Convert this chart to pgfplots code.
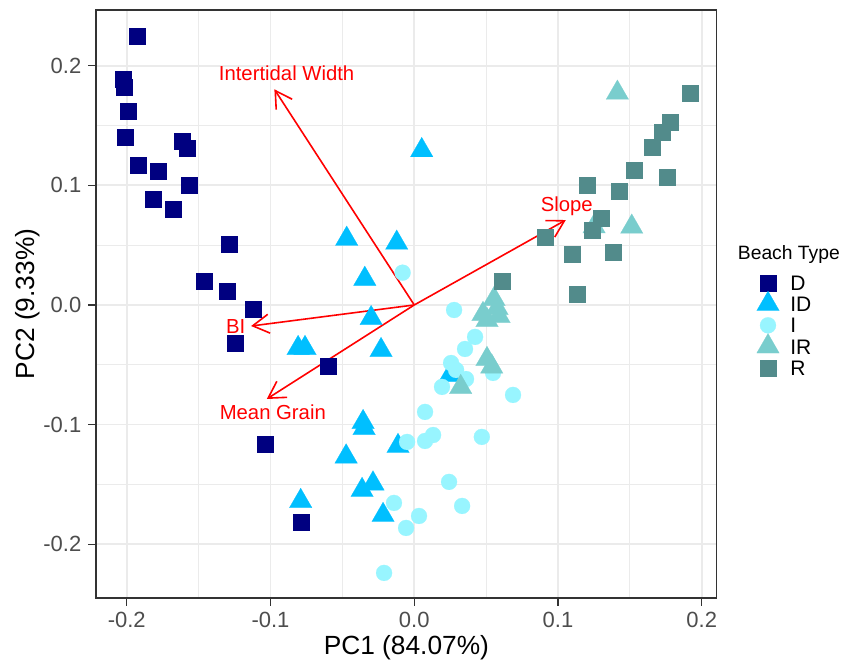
\documentclass[border=0pt]{standalone}
\usepackage{pgfplots}
\pgfplotsset{compat=1.18}
\usepackage{fontspec}
\setmainfont{Liberation Sans}
\usetikzlibrary{arrows.meta}

\definecolor{cD}{HTML}{000080}
\definecolor{cID}{HTML}{00BFFF}
\definecolor{cI}{HTML}{98F5FF}
\definecolor{cIR}{HTML}{79CDCD}
\definecolor{cR}{HTML}{528B8B}
\definecolor{gridc}{HTML}{EBEBEB}
\definecolor{frame}{HTML}{333333}
\definecolor{ticktxt}{HTML}{4D4D4D}

\pgfplotsset{
  keyimg/.style={legend image code/.code={%
    \path[draw=none, fill=none] (-6pt,-6.6pt) rectangle (6pt,6.6pt);
    \draw[##1] plot coordinates {(0pt,0pt)};}},
  loading/.style={red, line width=0.8pt, -{Straight Barb[length=8.2pt,width=9.5pt]}, forget plot},
}

\begin{document}
\begin{tikzpicture}
\begin{axis}[
    name=ax,
    scale only axis,
    width=310.4pt, height=294pt,
    xmin=-0.2214, xmax=0.2104,
    ymin=-0.2449, ymax=0.2466,
    clip=false,
    xtick={-0.2,-0.1,0,0.1,0.2},
    xticklabels={-0.2,-0.1,0.0,0.1,0.2},
    ytick={-0.2,-0.1,0,0.1,0.2},
    yticklabels={-0.2,-0.1,0.0,0.1,0.2},
    minor xtick={-0.15,-0.05,0.05,0.15},
    minor ytick={-0.15,-0.05,0.05,0.15},
    grid=both,
    major grid style={draw=gridc, line width=0.9pt},
    minor grid style={draw=gridc, line width=0.5pt},
    axis line style={draw=frame, line width=0.7pt},
    tick align=outside, tick pos=left,
    major tick length=3.8pt, minor tick length=0pt,
    every tick/.style={draw=frame, line width=0.6pt},
    ticklabel style={font=\fontsize{11}{13}\selectfont, text=ticktxt},
    xlabel={PC1 (84.07\%)},
    ylabel={PC2 (9.33\%)},
    label style={font=\fontsize{13.15}{15}\selectfont},
    xlabel style={at={(axis description cs:0.5,-0.085)}, anchor=center},
    ylabel style={at={(axis description cs:-0.1095,0.5)}, anchor=center},
    legend style={draw=none, fill=none,
      at={(axis description cs:1.0633,0.5582)}, anchor=north west,
      inner sep=0pt, outer sep=0pt, row sep=-2.6pt, column sep=5.2pt,
      nodes={inner sep=0pt, text height=7.5pt, text depth=0pt,
             font=\fontsize{10.5}{12}\selectfont}},
    legend cell align=left,
]

% D
\addplot[only marks, mark=square*, mark size=4pt,
  mark options={draw=cD, fill=cD, line width=0.2pt}, keyimg] coordinates {
  (-0.1928,0.2248) (-0.2026,0.1889) (-0.2019,0.1822) (-0.1991,0.1621)
  (-0.2012,0.1404) (-0.1615,0.1371) (-0.1581,0.1312) (-0.1921,0.1170)
  (-0.1782,0.1120) (-0.1567,0.1003) (-0.1817,0.0886) (-0.1678,0.0802)
  (-0.1288,0.0510) (-0.1462,0.0201) (-0.1302,0.0117) (-0.1121,-0.0033)
  (-0.1247,-0.0318) (-0.0600,-0.0510) (-0.1038,-0.1162) (-0.0788,-0.1814)
};
\addlegendentry{D}

% ID
\addplot[only marks, mark=triangle*, mark size=6.5pt,
  mark options={draw=cID, fill=cID, line width=0.1pt}, keyimg] coordinates {
  (0.0052,0.1293) (-0.0470,0.0552) (-0.0122,0.0519) (-0.0344,0.0217)
  (-0.0300,-0.0111) (-0.0808,-0.0361) (-0.0760,-0.0361) (-0.0231,-0.0378)
  (0.0249,-0.0587) (-0.0356,-0.0980) (-0.0349,-0.1030) (-0.0474,-0.1268)
  (-0.0113,-0.1180) (-0.0363,-0.1548) (-0.0287,-0.1494) (-0.0217,-0.1757)
  (-0.0790,-0.1640)
};
\addlegendentry{ID}

% I
\addplot[only marks, mark=*, mark size=4pt,
  mark options={draw=cI, fill=cI, line width=0.1pt}, keyimg] coordinates {
  (-0.0081,0.0270) (0.0277,-0.0042) (0.0423,-0.0267) (0.0353,-0.0368)
  (0.0256,-0.0485) (0.0291,-0.0543) (0.0360,-0.0619) (0.0193,-0.0685)
  (0.0548,-0.0568) (0.0687,-0.0752) (0.0075,-0.0894) (-0.0050,-0.1145)
  (0.0075,-0.1137) (0.0131,-0.1087) (0.0470,-0.1103) (0.0242,-0.1479)
  (0.0333,-0.1680) (-0.0141,-0.1655) (0.0033,-0.1764) (-0.0057,-0.1864)
  (-0.0210,-0.2240)
};
\addlegendentry{I}

% IR
\addplot[only marks, mark=triangle*, mark size=6.5pt,
  mark options={draw=cIR, fill=cIR, line width=0.1pt}, keyimg] coordinates {
  (0.1413,0.1773) (0.1251,0.0656) (0.1513,0.0653)
  (0.0555,0.0048) (0.0576,-0.0027) (0.0590,-0.0094) (0.0478,-0.0077)
  (0.0506,-0.0127) (0.0506,-0.0453) (0.0539,-0.0516) (0.0323,-0.0687)
};
\addlegendentry{IR}

% R
\addplot[only marks, mark=square*, mark size=4pt,
  mark options={draw=cR, fill=cR, line width=0.2pt}, keyimg] coordinates {
  (0.1919,0.1772) (0.1780,0.1529) (0.1725,0.1445) (0.1654,0.1320)
  (0.1529,0.1128) (0.1759,0.1069) (0.1202,0.1003) (0.1425,0.0953)
  (0.1300,0.0727) (0.1237,0.0627) (0.0910,0.0568) (0.1098,0.0426)
  (0.1383,0.0443) (0.1133,0.0092) (0.0614,0.0201)
};
\addlegendentry{R}

% loadings
\addplot[loading] coordinates {(0,0) (-0.0973,0.1803)};
\addplot[loading] coordinates {(0,0) (0.1054,0.0710)};
\addplot[loading] coordinates {(0,0) (-0.1135,-0.0176)};
\addplot[loading] coordinates {(0,0) (-0.1026,-0.0786)};

\node[text=red, font=\fontsize{10.15}{12}\selectfont] at (axis cs:-0.0888,0.1940) {Intertidal Width};
\node[text=red, font=\fontsize{10.15}{12}\selectfont] at (axis cs:0.1061,0.0822) {Slope};
\node[text=red, font=\fontsize{10.15}{12}\selectfont] at (axis cs:-0.1242,-0.0176) {BI};
\node[text=red, font=\fontsize{10.15}{12}\selectfont] at (axis cs:-0.0984,-0.0897) {Mean Grain};

\node[anchor=west, inner sep=0pt, font=\fontsize{9.65}{11}\selectfont]
  at (axis description cs:1.0335,0.5833) {Beach Type};
\end{axis}
\pgfresetboundingbox
\path[use as bounding box] ([xshift=-48pt,yshift=-33pt]ax.south west)
  rectangle ([xshift=65.15pt,yshift=5pt]ax.north east);
\end{tikzpicture}
\end{document}
